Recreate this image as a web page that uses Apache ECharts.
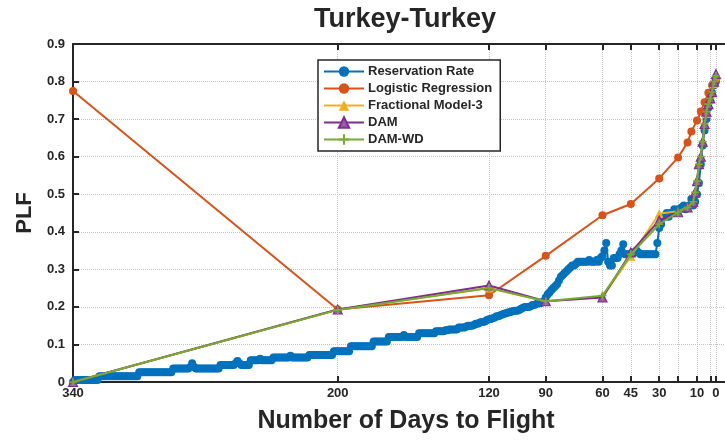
<!DOCTYPE html>
<html>
<head>
<meta charset="utf-8">
<script src="https://cdn.jsdelivr.net/npm/echarts@6/dist/echarts.min.js"></script>
<style>html,body{margin:0;padding:0;background:#fff;}#c{width:725px;height:441px;}</style>
</head>
<body>
<div id="c"></div>
<script>
// ---- data ----
const titleText = 'Turkey-Turkey';
const xName = 'Number of Days to Flight';
const yName = 'PLF';
const xTickDays = [340, 200, 120, 90, 60, 45, 30, 20, 10, 3, 0];
const xLabelDays = [340, 200, 120, 90, 60, 45, 30, 10, 0];
const seriesNames = ['Reservation Rate', 'Logistic Regression', 'Fractional Model-3', 'DAM', 'DAM-WD'];

// Reservation rate, one value per day from 340 down to 0
const resFirstDay = 340;
const reservationRate = [
  0, 0.005, 0.005, 0.005, 0.005, 0.005, 0.005, 0.005, 0.005, 0.005,
  0.005, 0.005, 0.005, 0.005, 0.015, 0.015, 0.015, 0.015, 0.015, 0.015,
  0.015, 0.015, 0.015, 0.015, 0.015, 0.015, 0.015, 0.015, 0.015, 0.015,
  0.015, 0.015, 0.015, 0.015, 0.015, 0.026, 0.026, 0.026, 0.026, 0.026,
  0.026, 0.026, 0.026, 0.026, 0.026, 0.026, 0.026, 0.026, 0.026, 0.026,
  0.026, 0.026, 0.026, 0.036, 0.036, 0.036, 0.036, 0.036, 0.036, 0.036,
  0.036, 0.036, 0.04, 0.05, 0.04, 0.036, 0.036, 0.036, 0.036, 0.036,
  0.036, 0.036, 0.036, 0.036, 0.036, 0.036, 0.036, 0.036, 0.045, 0.045,
  0.045, 0.045, 0.045, 0.045, 0.045, 0.045, 0.05, 0.056, 0.05, 0.045,
  0.045, 0.045, 0.045, 0.045, 0.058, 0.058, 0.058, 0.058, 0.058, 0.062,
  0.058, 0.058, 0.058, 0.058, 0.058, 0.058, 0.065, 0.065, 0.065, 0.065,
  0.065, 0.065, 0.065, 0.065, 0.065, 0.07, 0.065, 0.065, 0.065, 0.065,
  0.065, 0.065, 0.065, 0.065, 0.065, 0.072, 0.072, 0.072, 0.072, 0.072,
  0.072, 0.072, 0.072, 0.072, 0.072, 0.072, 0.072, 0.072, 0.082, 0.082,
  0.082, 0.082, 0.082, 0.082, 0.082, 0.082, 0.082, 0.095, 0.095, 0.095,
  0.095, 0.095, 0.095, 0.095, 0.095, 0.095, 0.095, 0.095, 0.095, 0.108,
  0.108, 0.108, 0.108, 0.108, 0.108, 0.108, 0.108, 0.12, 0.12, 0.12,
  0.12, 0.12, 0.12, 0.12, 0.12, 0.125, 0.12, 0.12, 0.12, 0.12,
  0.12, 0.12, 0.12, 0.13, 0.13, 0.13, 0.13, 0.13, 0.13, 0.13,
  0.13, 0.13, 0.135, 0.135, 0.135, 0.135, 0.135, 0.138, 0.138, 0.14,
  0.14, 0.14, 0.14, 0.14, 0.145, 0.145, 0.145, 0.145, 0.148, 0.15,
  0.15, 0.15, 0.152, 0.155, 0.155, 0.158, 0.16, 0.16, 0.162, 0.165,
  0.167, 0.168, 0.17, 0.172, 0.175, 0.175, 0.178, 0.18, 0.182, 0.183,
  0.185, 0.186, 0.188, 0.189, 0.19, 0.19, 0.192, 0.195, 0.198, 0.2,
  0.2, 0.2, 0.202, 0.205, 0.205, 0.208, 0.21, 0.21, 0.212, 0.215,
  0.225, 0.233, 0.238, 0.245, 0.25, 0.255, 0.26, 0.27, 0.28, 0.285,
  0.29, 0.295, 0.3, 0.305, 0.31, 0.31, 0.315, 0.32, 0.32, 0.32,
  0.32, 0.32, 0.32, 0.325, 0.32, 0.32, 0.32, 0.325, 0.32, 0.33,
  0.335, 0.35, 0.37, 0.32, 0.31, 0.31, 0.33, 0.33, 0.33, 0.34,
  0.35, 0.367, 0.34, 0.34, 0.34, 0.34, 0.345, 0.345, 0.35, 0.345,
  0.34, 0.34, 0.34, 0.34, 0.34, 0.34, 0.34, 0.34, 0.34, 0.37,
  0.41, 0.42, 0.44, 0.44, 0.45, 0.44, 0.45, 0.45, 0.46, 0.455,
  0.46, 0.46, 0.465, 0.47, 0.46, 0.465, 0.47, 0.487, 0.47, 0.48,
  0.5, 0.53, 0.58, 0.63, 0.67, 0.7, 0.73, 0.75, 0.77, 0.79, 0.80
];

const logisticDays = [340, 200, 120, 90, 60, 45, 30, 20, 15, 13, 10, 8, 6, 4, 2, 0];
const logisticVals = [0.775, 0.193, 0.231, 0.336, 0.444, 0.474, 0.542, 0.598, 0.638, 0.667, 0.696, 0.72, 0.745, 0.77, 0.79, 0.805];

const fracDays = [340, 200, 120, 90, 60, 45, 30, 20, 15, 12, 11, 10, 9, 8, 7, 6, 5, 4, 3, 2, 1, 0];
const fracVals = [0, 0.193, 0.25, 0.215, 0.226, 0.335, 0.448, 0.455, 0.465, 0.48, 0.505, 0.535, 0.58, 0.6, 0.64, 0.685, 0.715, 0.74, 0.755, 0.772, 0.795, 0.815];

const damDays = [340, 200, 120, 90, 60, 45, 30, 20, 15, 12, 11, 10, 9, 8, 7, 6, 5, 4, 3, 2, 1, 0];
const damVals = [0, 0.193, 0.257, 0.215, 0.225, 0.345, 0.43, 0.452, 0.465, 0.48, 0.505, 0.535, 0.58, 0.6, 0.64, 0.687, 0.72, 0.74, 0.755, 0.772, 0.8, 0.82];

const damwdDays = [340, 200, 120, 90, 60, 45, 30, 20, 15, 12, 11, 10, 9, 8, 7, 6, 5, 4, 3, 2, 1, 0];
const damwdVals = [0, 0.192, 0.25, 0.215, 0.23, 0.34, 0.42, 0.452, 0.465, 0.48, 0.505, 0.535, 0.58, 0.6, 0.64, 0.687, 0.72, 0.74, 0.755, 0.772, 0.8, 0.815];

// ---- build ----
const pair = (d, v) => d.map((x, i) => [x, v[i]]);
const resData = reservationRate.map((v, i) => [resFirstDay - i, v]);

const ink = '#262626';
const FONT = '"Liberation Sans", Arial, sans-serif';
const plusPath = 'path://M4,0H6V4H10V6H6V10H4V6H0V4H4Z';

const chart = echarts.init(document.getElementById('c'), null, {renderer: 'canvas'});
const axisBase = {
  type: 'value', min: -4.8, max: 340, inverse: true
};
chart.setOption({
  animation: false,
  textStyle: {fontFamily: FONT},
  grid: {left: 73, top: 44, right: 0, bottom: 59, containLabel: false},
  graphic: [{
    type: 'text', z: 100,
    style: {text: titleText, x: 405, y: 20, textAlign: 'center', textVerticalAlign: 'middle',
            font: 'bold 27px ' + FONT, fill: ink}
  }, {
    type: 'text', z: 100,
    style: {text: xName, x: 406, y: 421, textAlign: 'center', textVerticalAlign: 'middle',
            font: 'bold 25px ' + FONT, fill: ink}
  }],
  legend: {
    orient: 'vertical', left: 318, top: 60,
    backgroundColor: '#fff', borderColor: ink, borderWidth: 1.5,
    padding: [5, 8, 5, 5],
    itemWidth: 40, itemHeight: 13, itemGap: 4,
    textStyle: {fontSize: 13, fontWeight: 'bold', color: ink, fontFamily: FONT, padding: [0, 0, 0, -1]},
    data: seriesNames
  },
  xAxis: [Object.assign({}, axisBase, {
    position: 'bottom',
    axisLine: {show: true, onZero: false, lineStyle: {color: ink, width: 2}},
    axisTick: {show: true, inside: true, length: 6, customValues: xTickDays, lineStyle: {color: ink, width: 2}},
    axisLabel: {customValues: xLabelDays, color: ink, fontWeight: 'bold', fontSize: 13, margin: 5, fontFamily: FONT},
    splitLine: {show: true, lineStyle: {type: 'dotted', color: '#c4c4c4', width: 1}}
  }), Object.assign({}, axisBase, {
    position: 'top',
    axisLine: {show: true, onZero: false, lineStyle: {color: ink, width: 2}},
    axisTick: {show: true, inside: true, length: 6, customValues: xTickDays, lineStyle: {color: ink, width: 2}},
    axisLabel: {show: false},
    splitLine: {show: false}
  })],
  yAxis: [{
    type: 'value', min: 0, max: 0.9, interval: 0.1,
    name: yName, nameLocation: 'middle', nameGap: 36,
    nameTextStyle: {fontSize: 22, fontWeight: 'bold', color: ink, fontFamily: FONT},
    axisLine: {show: true, onZero: false, lineStyle: {color: ink, width: 2}},
    axisTick: {show: true, inside: true, length: 6, lineStyle: {color: ink, width: 2}},
    axisLabel: {color: ink, fontWeight: 'bold', fontSize: 13, margin: 8, fontFamily: FONT,
                formatter: v => v === 0 ? '0' : v.toFixed(1)},
    splitLine: {show: true, lineStyle: {type: 'dotted', color: '#c4c4c4', width: 1}}
  }],
  series: [{
    name: seriesNames[0], type: 'line', data: resData,
    showAllSymbol: true, symbol: 'circle', symbolSize: 8,
    lineStyle: {color: '#0072BD', width: 2}, itemStyle: {color: '#0072BD'}, z: 2
  }, {
    name: seriesNames[1], type: 'line', data: pair(logisticDays, logisticVals),
    showAllSymbol: true, symbol: 'circle', symbolSize: 8,
    lineStyle: {color: '#D95319', width: 2}, itemStyle: {color: '#D95319'}, z: 3
  }, {
    name: seriesNames[2], type: 'line', data: pair(fracDays, fracVals),
    showAllSymbol: true, symbol: 'triangle', symbolSize: 9,
    lineStyle: {color: '#EDB120', width: 2}, itemStyle: {color: '#EDB120'}, z: 4
  }, {
    name: seriesNames[3], type: 'line', data: pair(damDays, damVals),
    showAllSymbol: true, symbol: 'triangle', symbolSize: 9,
    lineStyle: {color: '#7E2F8E', width: 2},
    itemStyle: {color: '#9a5aa8', borderColor: '#7E2F8E', borderWidth: 1.2}, z: 5
  }, {
    name: seriesNames[4], type: 'line', data: pair(damwdDays, damwdVals),
    showAllSymbol: true, symbol: plusPath, symbolSize: 8,
    lineStyle: {color: '#77AC30', width: 2}, itemStyle: {color: '#77AC30'}, z: 6
  }]
});
</script>
</body>
</html>
